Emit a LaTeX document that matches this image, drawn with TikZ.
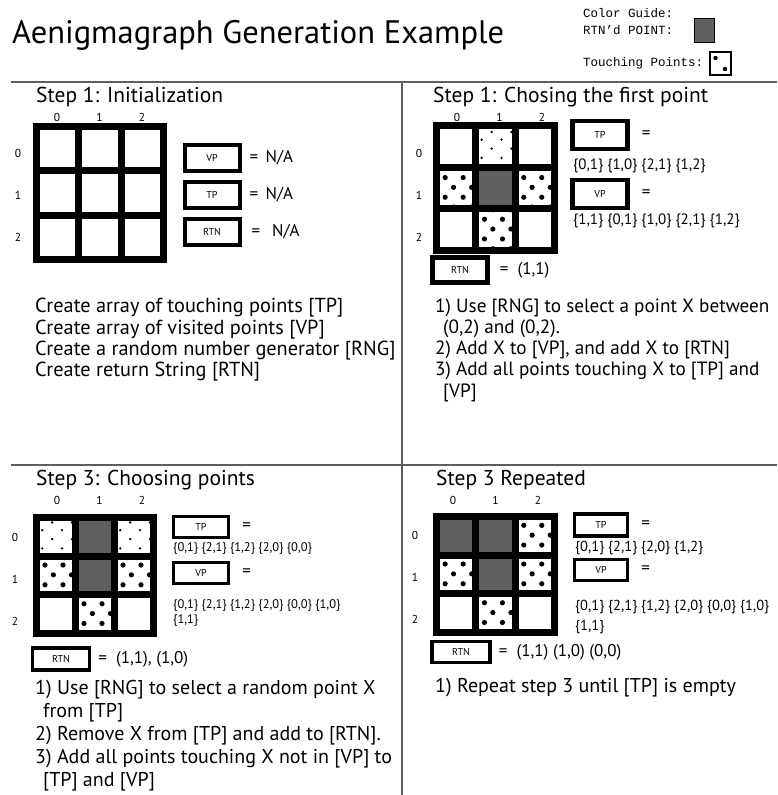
\documentclass[tikz,border=0pt]{standalone}
\usepackage{fontspec}
\setmainfont{PT Sans}
\setmonofont{Liberation Mono}
\usetikzlibrary{positioning}

\definecolor{rtngray}{RGB}{96,96,98}
\definecolor{rulegray}{RGB}{95,95,95}

% 3x3 board: name, left, top, pitch x, pitch y, styles of the nine cells
\newcommand{\aegrid}[6]{%
  \foreach \cst [count=\k from 0] in {#6} {
    \pgfmathtruncatemacro{\crow}{\k/3}
    \pgfmathtruncatemacro{\ccol}{mod(\k,3)}
    \node [cell,\cst,minimum width=#4pt,minimum height=#5pt]
      (#1-\crow-\ccol) at ({#2+3.5+(\ccol+0.5)*#4},{#3+3.5+(\crow+0.5)*#5}) {};
  }}
% column and row numbers of a board
\newcommand{\aelabels}[5]{%
  \foreach \i in {0,1,2} {
    \node [idx] (#1-c\i) at ({#2+42.5*\i},#3) {\i};
    \node [idx] (#1-r\i) at (#4,{#5+42*\i}) {\i};
  }}

\begin{document}
\begin{tikzpicture}[x=1pt,y=-1pt,
    cell/.style={rectangle,draw,line width=7pt,fill=white,inner sep=0pt,
		outer sep=0pt},
    cellw/.style={},
    cellr/.style={fill=rtngray},
% touching point, big dots
    celltb/.style={path picture={
      \foreach \dx/\dy in {-11/-10.5,7/-10.5,-2.6/-0.7,15.5/-0.7,-20/-0.7,
          -11/9.2,7/9.2,-2.6/19,15.5/19,-2.6/-20,15.5/-20}
        \fill [black] ([shift={(\dx,\dy)}]path picture bounding box.center)
          circle (2.6pt);}},
% touching point, small dots
    cellts/.style={path picture={
      \foreach \dx/\dy in {-3.8/-14.4,-13.8/-6.7,6/-6.7,16/-14.4,-3.8/2.2,
          16/2.2,-13.8/11.5,6/11.5}
        \fill [black] ([shift={(\dx,\dy)}]path picture bounding box.center)
          circle (1.3pt);}},
    varbox/.style={rectangle,draw,line width=4pt,minimum width=55pt,
		minimum height=25pt,inner sep=0pt,font=\fontsize{10}{12}\selectfont},
    eqtext/.style={font=\fontsize{17}{20}\selectfont,inner sep=0pt},
    settext/.style={font=\fontsize{15}{20}\selectfont,anchor=west,align=left,
		inner sep=0pt},
    stephead/.style={font=\fontsize{21.5}{24}\selectfont,anchor=base west,
		inner sep=0pt},
    steptext/.style={font=\fontsize{20}{21.3}\selectfont,anchor=west,
		align=left,inner sep=0pt},
    idx/.style={font=\fontsize{11.5}{12}\selectfont,inner sep=0pt},
    guide/.style={font=\ttfamily\fontsize{12.5}{15}\selectfont,anchor=west,
		inner sep=0pt},
    divider/.style={draw=rulegray,line width=1.6pt}
    ]
   \useasboundingbox (0,0) rectangle (777,795);

%%% Title and colour guide
   \node [anchor=base west,inner sep=0pt,font=\fontsize{32.5}{40}\selectfont]
     (title) at (12,43) {Aenigmagraph Generation Example};
   \node [guide] (guidehead) at (583,13) {Color Guide:};
   \node [guide] (guidertn) at (583,30) {RTN’d POINT:};
   \node [guide] (guidetp) at (583,63) {Touching Points:};
   \node [rectangle,draw,thick,fill=rtngray,minimum width=20pt,
     minimum height=24pt] (rtnsq) at (704,30) {};
   \node [rectangle,draw,line width=2pt,fill=white,minimum width=21pt,
     minimum height=23pt,path picture={
       \fill [black] ([shift={(-4.5,-5)}]path picture bounding box.center)
         circle (2.2pt);
       \fill [black] ([shift={(5,6)}]path picture bounding box.center)
         circle (2.2pt);}]
     (tpsq) at (720,63) {};

%%% Dividers
   \coordinate (topl) at (11,82);
   \coordinate (topr) at (777,82);
   \coordinate (midl) at (11,465);
   \coordinate (midr) at (777,465);
   \coordinate (vtop) at (402,82);
   \coordinate (vbot) at (402,795);
   \draw [divider] (topl) -- (topr);
   \draw [divider] (midl) -- (midr);
   \draw [divider] (vtop) -- (vbot);

%%% Step 1: Initialization
   \node [stephead] (s1head) at (36,102) {Step 1: Initialization};
   \aelabels{qa}{57}{117}{18}{153}
   \aegrid{qa}{33}{123}{42.3}{44.3}{cellw,cellw,cellw,cellw,cellw,cellw,cellw,cellw,cellw}
   \node [varbox,minimum height=26pt] (qavp) at (212,158) {VP};
   \node [varbox,minimum height=26pt] (qatp) at (212,195) {TP};
   \node [varbox,minimum height=26pt] (qartn) at (212,231.5) {RTN};
   \node [eqtext,anchor=west] [right=8pt of qavp] (qavpeq) {= \,N/A};
   \node [eqtext,anchor=west] [right=8pt of qatp] (qatpeq) {= \,N/A};
   \node [eqtext,anchor=west] [right=10pt of qartn] (qartneq) {= \ \,N/A};
   \node [steptext,font=\fontsize{20.3}{21.3}\selectfont] (qatext) at (35,340)
     {Create array of touching points [TP]\\
     Create array of visited points [VP]\\
     Create a random number generator [RNG]\\
     Create return String [RTN]};

%%% Step 1: first point
   \node [stephead] (s2head) at (433,102) {Step 1: Chosing the first point};
   \aelabels{qb}{457}{117}{419}{153}
   \aegrid{qb}{433}{122}{39.3}{41.7}{cellw,cellts,cellw,celltb,cellr,celltb,cellw,celltb,cellw}
   \node [varbox,line width=4.5pt,minimum height=28pt] (qbtp) at (600,135) {TP};
   \node [eqtext,anchor=west] [right=12pt of qbtp] (qbtpeq) {=};
   \node [settext] (qbtpset) at (573,166) {\{0,1\} \{1,0\} \{2,1\} \{1,2\}};
   \node [varbox,line width=4.5pt,minimum height=28pt] (qbvp) at (600,194) {VP};
   \node [eqtext,anchor=west] [right=12pt of qbvp] (qbvpeq) {=};
   \node [settext] (qbvpset) at (573,221) {\{1,1\} \{0,1\} \{1,0\} \{2,1\} \{1,2\}};
   \node [varbox,line width=4.5pt] (qbrtn) at (460,270) {RTN};
   \node [eqtext,anchor=west] [right=10pt of qbrtn] (qbrtneq) {= \ (1,1)};
   \node [steptext,font=\fontsize{19.2}{21.3}\selectfont] (qbtext) at (435,350)
     {1) Use [RNG] to select a point X between\\
     \hspace*{8pt}(0,2) and (0,2).\\
     2) Add X to [VP], and add X to [RTN]\\
     3) Add all points touching X to [TP] and\\
     \hspace*{8pt}[VP]};

%%% Step 3: Choosing points
   \node [stephead] (s3head) at (36,485) {Step 3: Choosing points};
   \aelabels{qc}{57}{500}{15}{537}
   \aegrid{qc}{33}{514}{39}{38.7}{cellts,cellr,cellts,celltb,cellr,celltb,cellw,celltb,cellw}
   \node [varbox,line width=3.5pt,minimum height=21pt] (qctp) at (201,527) {TP};
   \node [eqtext,anchor=west] [right=12pt of qctp] (qctpeq) {=};
   \node [settext,font=\fontsize{12.5}{15}\selectfont] (qctpset) at (173,548)
     {\{0,1\} \{2,1\} \{1,2\} \{2,0\} \{0,0\}};
   \node [varbox,line width=3.5pt,minimum height=21pt] (qcvp) at (201,573) {VP};
   \node [eqtext,anchor=west] [right=12pt of qcvp] (qcvpeq) {=};
   \node [settext,font=\fontsize{12.5}{15}\selectfont] (qcvpset) at (173,612.5)
     {\{0,1\} \{2,1\} \{1,2\} \{2,0\} \{0,0\} \{1,0\}\\\{1,1\}};
   \node [varbox,line width=3.5pt,minimum height=22pt,minimum width=57pt]
     (qcrtn) at (61,659) {RTN};
   \node [eqtext,anchor=west] [right=7pt of qcrtn] (qcrtneq) {= \ (1,1), (1,0)};
   \node [steptext,font=\fontsize{20}{23}\selectfont] (qctext) at (35,736)
     {1) Use [RNG] to select a random point X\\
     \hspace*{8pt}from [TP]\\
     2) Remove X from [TP] and add to [RTN].\\
     3) Add all points touching X not in [VP] to\\
     \hspace*{8pt}[TP] and [VP]};

%%% Step 3 Repeated
   \node [stephead] (s4head) at (436,485) {Step 3 Repeated};
   \aelabels{qd}{453}{500}{415}{535}
   \aegrid{qd}{433}{513}{39.3}{38.7}{cellr,cellr,celltb,celltb,cellr,celltb,cellw,celltb,cellw}
   \node [varbox,line width=3.5pt,minimum height=22pt,minimum width=53pt]
     (qdtp) at (601,525) {TP};
   \node [eqtext,anchor=west] [right=12pt of qdtp] (qdtpeq) {=};
   \node [settext,font=\fontsize{14.5}{20}\selectfont] (qdtpset) at (575,548)
     {\{0,1\} \{2,1\} \{2,0\} \{1,2\}};
   \node [varbox,line width=3.5pt,minimum height=21pt,minimum width=53pt]
     (qdvp) at (601,570) {VP};
   \node [eqtext,anchor=west] [right=12pt of qdvp] (qdvpeq) {=};
   \node [settext,font=\fontsize{14.5}{20}\selectfont] (qdvpset) at (575,617)
     {\{0,1\} \{2,1\} \{1,2\} \{2,0\} \{0,0\} \{1,0\}\\\{1,1\}};
   \node [varbox,line width=3.5pt,minimum height=21pt,minimum width=58pt]
     (qdrtn) at (461,652) {RTN};
   \node [eqtext,anchor=west] [right=7pt of qdrtn] (qdrtneq) {= \ (1,1) (1,0) (0,0)};
   \node [steptext] (qdtext) at (435,688) {1) Repeat step 3 until [TP] is empty};
\end{tikzpicture}
\end{document}
